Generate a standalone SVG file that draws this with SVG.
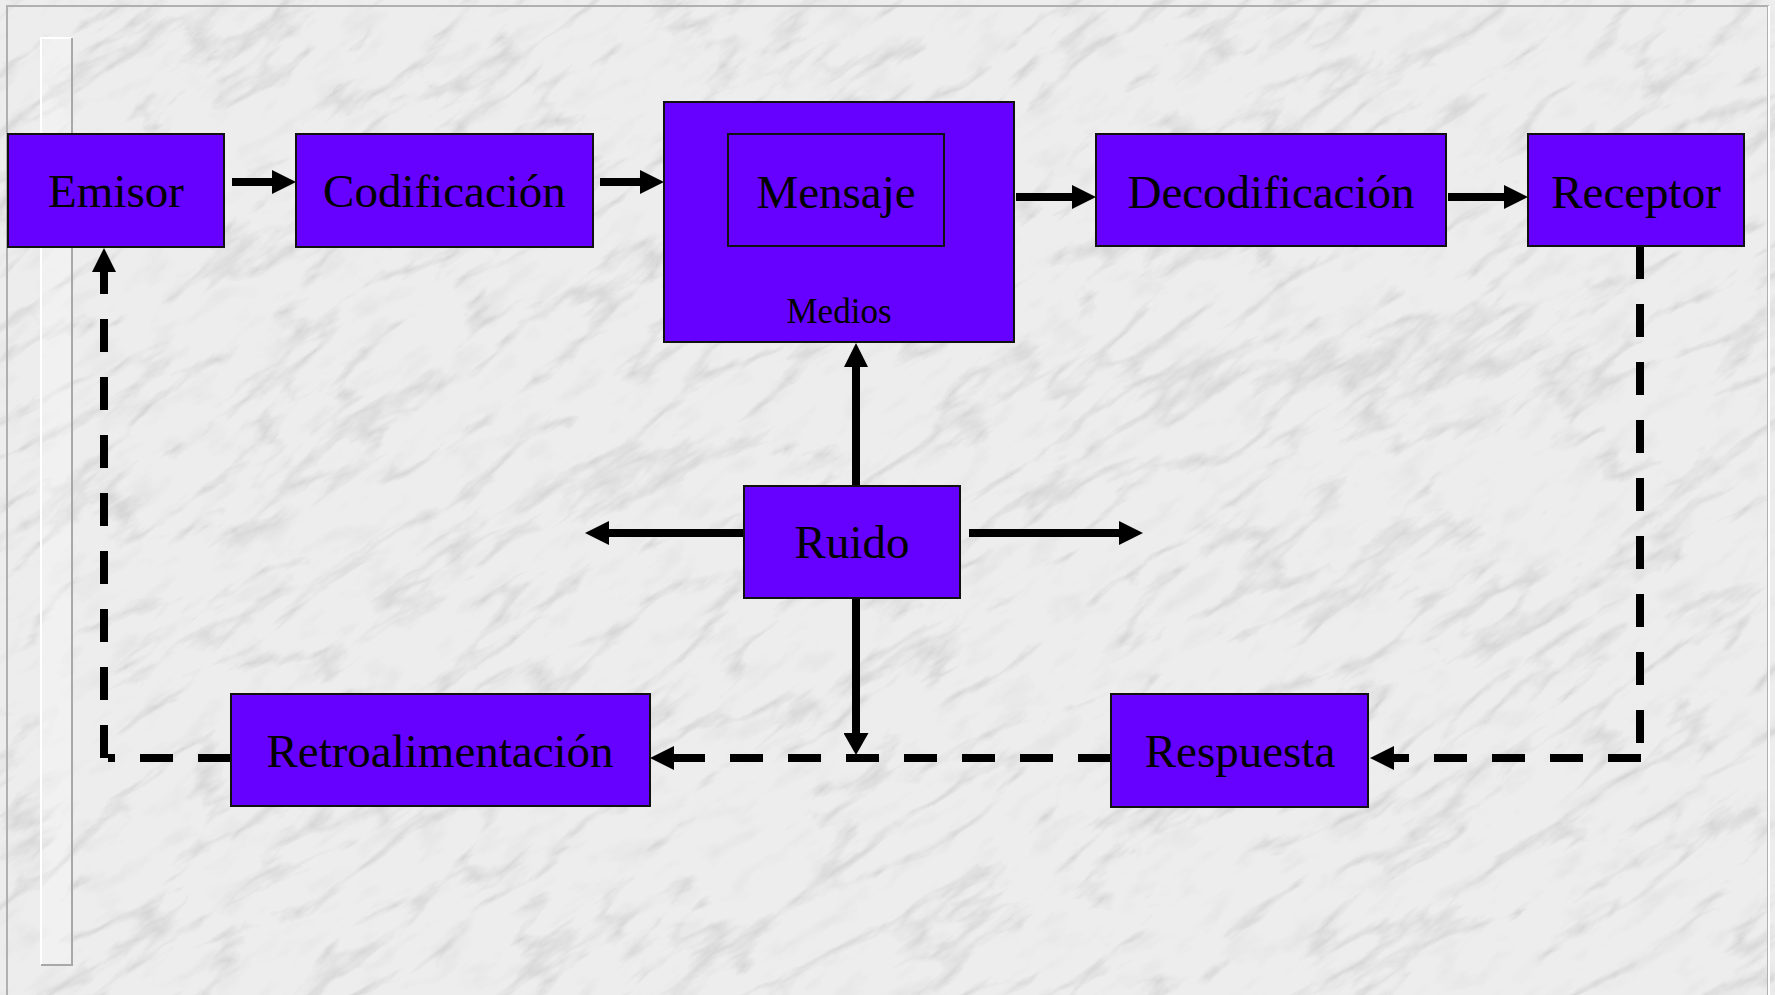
<svg xmlns="http://www.w3.org/2000/svg" width="1775" height="995" viewBox="0 0 1775 995">
  <defs>
    <filter id="marble" x="0" y="0" width="100%" height="100%" filterUnits="objectBoundingBox">
      <feTurbulence type="turbulence" baseFrequency="0.006 0.02" numOctaves="5" seed="7" result="t"/>
      <feColorMatrix in="t" type="matrix" values="0 0 0 0 0.5  0 0 0 0 0.5  0 0 0 0 0.52  -2.2 0 0 0 0.5"/>
    </filter>
    <filter id="grain" x="0" y="0" width="100%" height="100%" filterUnits="objectBoundingBox">
      <feTurbulence type="fractalNoise" baseFrequency="0.02 0.05" numOctaves="4" seed="2" result="n"/>
      <feColorMatrix in="n" type="matrix" values="0 0 0 0 0.62  0 0 0 0 0.62  0 0 0 0 0.62  0 0 0 -0.8 0.38"/>
    </filter>
    <marker id="ah" markerUnits="userSpaceOnUse" markerWidth="24" markerHeight="24" refX="0" refY="12" orient="auto">
      <path d="M0,0 L24,12 L0,24 Z" fill="#000"/>
    </marker>
    <marker id="ahs" markerUnits="userSpaceOnUse" markerWidth="22" markerHeight="25" refX="0" refY="12.5" orient="auto">
      <path d="M0,0 L22,12.5 L0,25 Z" fill="#000"/>
    </marker>
  </defs>
  <style>
    .box { fill: #6600ff; stroke: #111; stroke-width: 2; }
    .lbl { font-family: "Liberation Serif", "Times New Roman", serif; font-size: 47px; fill: #000; text-anchor: middle; }
    .small { font-size: 35px; }
    .solid { fill: none; stroke: #000; stroke-width: 8; }
    .dash { fill: none; stroke: #000; stroke-width: 8; stroke-dasharray: 33 25; }
  </style>

  <!-- background -->
  <rect x="0" y="0" width="1775" height="995" fill="#ededed"/>
  <g transform="rotate(-35 887 497)">
    <rect x="-500" y="-700" width="2800" height="2400" filter="url(#grain)"/>
    <rect x="-500" y="-700" width="2800" height="2400" filter="url(#marble)"/>
  </g>
  <rect x="7" y="6" width="1761" height="1000" fill="none" stroke="#b0b0b0" stroke-width="2"/>
  <line x1="1769" y1="6" x2="1769" y2="995" stroke="#ffffff" stroke-width="2"/>
  <g id="bar">
    <rect x="40" y="37" width="32" height="928" fill="#ffffff" fill-opacity="0.25"/>
    <path d="M41,965 V38 H72" fill="none" stroke="#ffffff" stroke-width="2"/>
    <path d="M72,38 V965 H41" fill="none" stroke="#a8a8a8" stroke-width="2"/>
  </g>

  <g id="connectors">
    <line class="solid" x1="232" y1="182" x2="272" y2="182" marker-end="url(#ah)"/>
    <line class="solid" x1="600" y1="182" x2="640" y2="182" marker-end="url(#ah)"/>
    <line class="solid" x1="1016" y1="197" x2="1072" y2="197" marker-end="url(#ah)"/>
    <line class="solid" x1="1448" y1="197" x2="1504" y2="197" marker-end="url(#ah)"/>
    <line class="solid" x1="856" y1="486" x2="856" y2="367" marker-end="url(#ah)"/>
    <line class="solid" x1="744" y1="533" x2="609" y2="533" marker-end="url(#ah)"/>
    <line class="solid" x1="969" y1="533" x2="1119" y2="533" marker-end="url(#ah)"/>
    <line class="solid" x1="856" y1="598" x2="856" y2="733" marker-end="url(#ahs)"/>
    <path class="dash" d="M1640,246 V745"/>
    <path class="dash" d="M1641,758 H1394" marker-end="url(#ah)"/>
    <path class="dash" d="M1111,758 H674" marker-end="url(#ah)"/>
    <path class="dash" d="M231,758 H108"/>
    <path class="dash" d="M104,758 V272" marker-end="url(#ah)"/>
  </g>

  <g id="emisor">
    <rect class="box" x="8" y="134" width="216" height="113"/>
    <text class="lbl" x="116" y="207">Emisor</text>
  </g>
  <g id="codificacion">
    <rect class="box" x="296" y="134" width="297" height="113"/>
    <text class="lbl" x="444.5" y="207">Codificación</text>
  </g>
  <g id="medios">
    <rect class="box" x="664" y="102" width="350" height="240"/>
    <text class="lbl small" x="839" y="323">Medios</text>
  </g>
  <g id="mensaje">
    <rect class="box" x="728" y="134" width="216" height="112"/>
    <text class="lbl" x="836" y="208">Mensaje</text>
  </g>
  <g id="decodificacion">
    <rect class="box" x="1096" y="134" width="350" height="112"/>
    <text class="lbl" x="1271" y="208">Decodificación</text>
  </g>
  <g id="receptor">
    <rect class="box" x="1528" y="134" width="216" height="112"/>
    <text class="lbl" x="1636" y="208">Receptor</text>
  </g>
  <g id="ruido">
    <rect class="box" x="744" y="486" width="216" height="112"/>
    <text class="lbl" x="852" y="558">Ruido</text>
  </g>
  <g id="retroalimentacion">
    <rect class="box" x="231" y="694" width="419" height="112"/>
    <text class="lbl" x="440" y="767">Retroalimentación</text>
  </g>
  <g id="respuesta">
    <rect class="box" x="1111" y="694" width="257" height="113"/>
    <text class="lbl" x="1240" y="767">Respuesta</text>
  </g>
</svg>
